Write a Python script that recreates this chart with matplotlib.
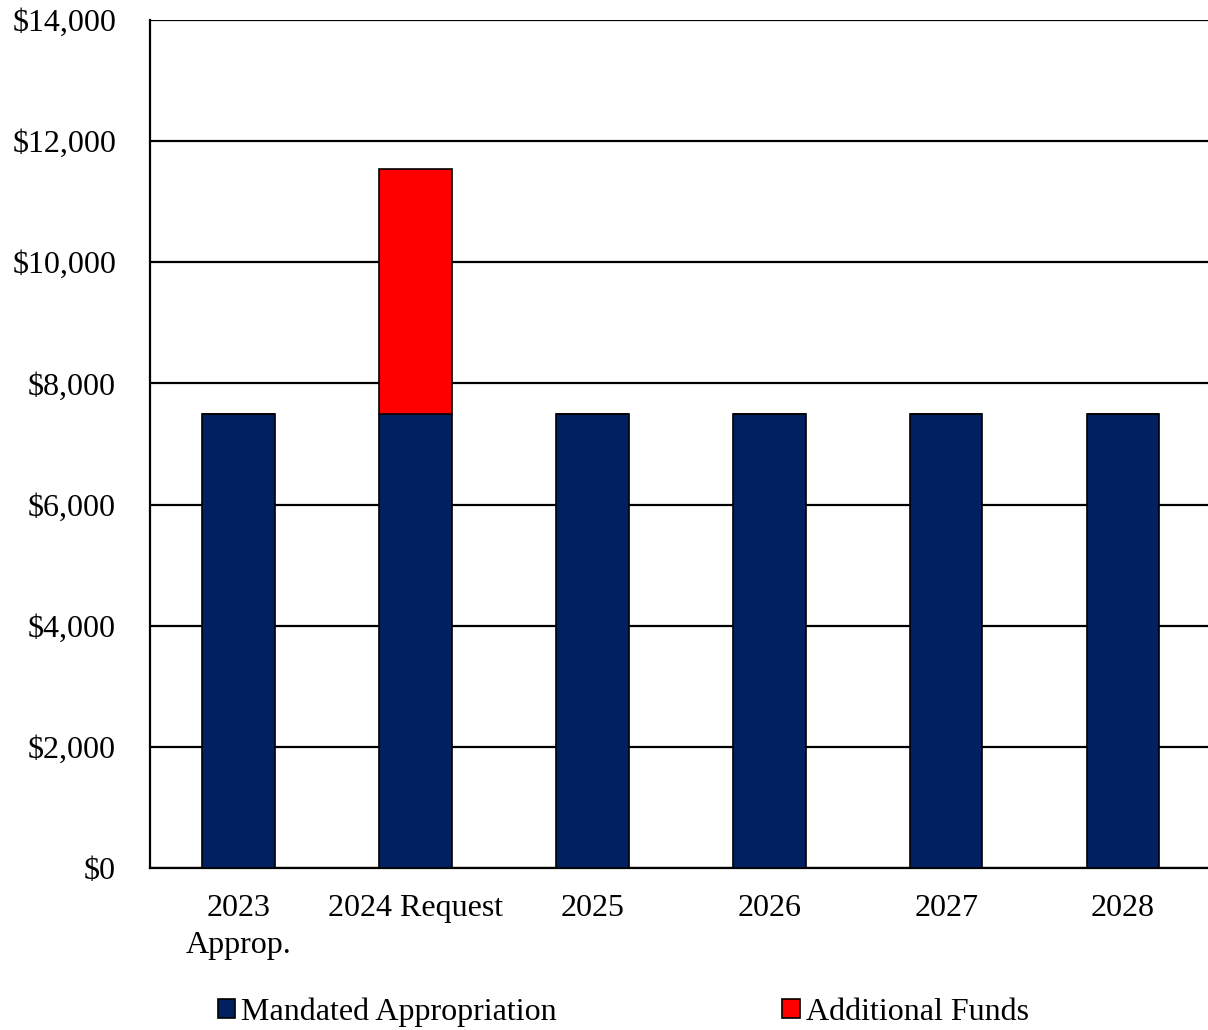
import matplotlib
matplotlib.use('Agg')
import matplotlib.pyplot as plt
from matplotlib.ticker import FuncFormatter

# data (in thousands of dollars)
categories = ['2023\nApprop.', '2024 Request', '2025', '2026', '2027', '2028']
mandated = [7500, 7500, 7500, 7500, 7500, 7500]
additional = [0, 4040, 0, 0, 0, 0]

plt.rcParams['font.family'] = ['Liberation Serif', 'DejaVu Serif']
plt.rcParams['font.size'] = 23

fig = plt.figure(figsize=(12.08, 10.30), dpi=100)
ax = fig.add_axes([0.1242, 0.1573, 0.8758, 0.8233])

x = range(len(categories))
ax.bar(x, mandated, width=0.41, color='#002060', edgecolor='black', linewidth=1.2,
       label='Mandated Appropriation', zorder=3)
ax.bar(x, additional, width=0.41, bottom=mandated, color='#ff0000', edgecolor='black',
       linewidth=1.2, label='Additional Funds', zorder=3)

ax.set_xlim(-0.5, 5.48)
ax.set_ylim(0, 14000)
ax.set_yticks(range(0, 14001, 2000))
ax.yaxis.set_major_formatter(FuncFormatter(lambda v, p: '${:,.0f}'.format(v)))
ax.set_xticks(list(x))
ax.set_xticklabels(categories, linespacing=1.35)
ax.grid(axis='y', color='black', linewidth=1.6, zorder=0)
ax.tick_params(length=0)
ax.tick_params(axis='x', pad=19)
ax.tick_params(axis='y', pad=24.5)
ax.spines['right'].set_visible(False)
ax.spines['top'].set_visible(False)
ax.spines['left'].set_linewidth(1.6)
ax.spines['bottom'].set_linewidth(1.6)

fig.legend(loc='center left', bbox_to_anchor=(0.1696, 0.0175), ncol=2, frameon=False,
           borderaxespad=0, handlelength=0.55, handleheight=0.55, handletextpad=0.19,
           columnspacing=7.05, fontsize=23)

fig.savefig('out.png', dpi=100)
